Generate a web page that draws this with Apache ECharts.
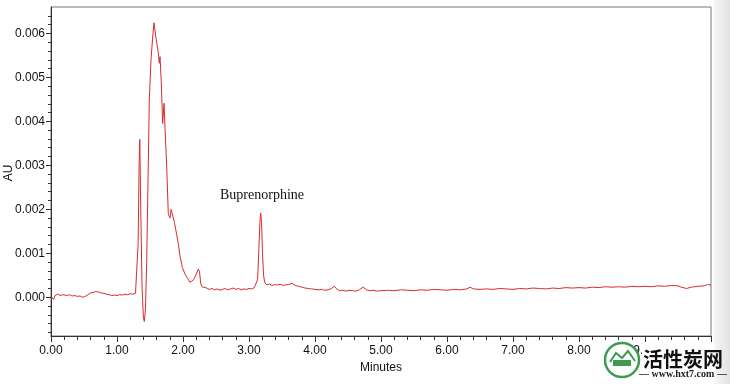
<!DOCTYPE html>
<html>
<head>
<meta charset="utf-8">
<script src="https://cdn.jsdelivr.net/npm/echarts@6/dist/echarts.min.js"></script>
<style>html,body{margin:0;padding:0;background:#fff}#c{width:730px;height:384px}</style>
</head>
<body>
<div id="c"></div>
<script>
// Retention time (minutes)
const time = [
  0.00,0.02,0.04,0.06,0.08,0.10,0.12,0.14,0.16,0.18,0.20,0.24,0.28,0.32,0.36,0.40,0.44,0.48,0.52,0.56,
  0.60,0.64,0.68,0.72,0.76,0.80,0.84,0.88,0.92,0.96,1.00,1.04,1.08,1.12,1.16,1.20,1.24,1.28,1.30,
  1.32,1.335,1.345,1.36,1.38,1.40,1.414,1.43,1.45,1.465,1.49,1.515,1.545,1.56,1.59,1.626,1.641,1.652,
  1.67,1.692,1.712,1.735,1.753,1.777,1.803,1.82,1.838,1.87,1.905,1.93,1.955,1.99,2.03,2.07,2.106,2.13,
  2.16,2.20,2.232,2.25,2.27,2.29,2.32,2.36,2.40,2.44,2.48,2.52,2.56,2.60,2.64,2.68,2.72,2.76,2.80,
  2.84,2.88,2.92,2.96,3.00,3.04,3.08,3.11,3.13,3.15,3.165,3.177,3.19,3.205,3.22,3.24,3.27,3.31,3.35,
  3.39,3.43,3.47,3.51,3.55,3.60,3.65,3.70,3.75,3.80,3.85,3.90,3.95,4.00,4.05,4.10,4.15,4.20,4.25,
  4.29,4.33,4.37,4.42,4.47,4.52,4.57,4.62,4.67,4.73,4.78,4.83,4.88,4.93,5.00,5.10,5.20,5.30,5.40,
  5.50,5.60,5.70,5.80,5.90,6.00,6.10,6.20,6.30,6.35,6.40,6.50,6.60,6.70,6.80,6.90,7.00,7.10,7.20,
  7.30,7.40,7.50,7.60,7.70,7.80,7.90,8.00,8.10,8.20,8.30,8.40,8.50,8.60,8.70,8.80,8.90,9.00,9.10,
  9.20,9.30,9.40,9.50,9.55,9.63,9.70,9.80,9.90,9.95,10.00
];
// Absorbance (AU)
const absorbance = [
  0.00002,0.00000,-0.00005,0.00004,0.00002,0.00007,0.00008,0.00004,0.00002,0.00006,0.00005,0.00004,0.00006,0.00003,0.00004,0.00002,0.00003,0.00000,0.00002,0.00006,
  0.00010,0.00011,0.00013,0.00012,0.00010,0.00009,0.00007,0.00006,0.00004,0.00005,0.00004,0.00006,0.00005,0.00007,0.00006,0.00008,0.00007,0.00009,0.00008,
  0.0012,0.0030,0.00359,0.0020,0.0002,-0.00045,-0.00055,-0.0003,0.0008,0.0022,0.0045,0.0054,0.0060,0.00624,0.0059,0.00555,0.00532,0.00547,
  0.0049,0.00395,0.00441,0.0036,0.00297,0.0019,0.0018,0.0020,0.0020,0.0017,0.00142,0.0012,0.00094,0.00068,0.00053,0.00043,0.00034,0.00032,
  0.0004,0.00052,0.00064,0.00058,0.0003,0.00024,0.00022,0.00021,0.00018,0.00020,0.00017,0.00019,0.00016,0.00018,0.00020,0.00017,0.00019,0.00021,0.00018,
  0.00020,0.00017,0.00019,0.00018,0.00020,0.00019,0.00022,0.00025,0.0004,0.0011,0.0017,0.00192,0.0017,0.0010,0.0005,0.00033,0.00028,0.00030,0.00027,
  0.00029,0.00028,0.00030,0.00027,0.00028,0.00029,0.00032,0.00027,0.00025,0.00023,0.00021,0.00020,0.00019,0.00018,0.00017,0.00018,0.00016,0.00017,0.00020,
  0.00025,0.00019,0.00015,0.00016,0.00014,0.00016,0.00015,0.00014,0.00017,0.00023,0.00017,0.00015,0.00016,0.00014,0.00015,0.00016,0.00015,0.00017,0.00016,
  0.00015,0.00017,0.00016,0.00018,0.00017,0.00016,0.00018,0.00017,0.00019,0.00023,0.00019,0.00018,0.00019,0.00018,0.00020,0.00019,0.00018,0.00020,0.00019,
  0.00021,0.00020,0.00019,0.00021,0.00020,0.00022,0.00021,0.00022,0.00021,0.00023,0.00022,0.00024,0.00023,0.00024,0.00023,0.00025,0.00024,0.00025,0.00024,
  0.00026,0.00025,0.00027,0.00026,0.00023,0.00020,0.00023,0.00025,0.00026,0.00029,0.00028
];
// Axis tick values
const yMajorTicks = [0, 0.001, 0.002, 0.003, 0.004, 0.005, 0.006];
const yMinorTicks = [-0.0008,-0.0006,-0.0004,-0.0002,0,0.0002,0.0004,0.0006,0.0008,0.001,0.0012,0.0014,0.0016,0.0018,0.002,0.0022,0.0024,0.0026,0.0028,0.003,0.0032,0.0034,0.0036,0.0038,0.004,0.0042,0.0044,0.0046,0.0048,0.005,0.0052,0.0054,0.0056,0.0058,0.006,0.0062,0.0064];
const peakLabel = 'Buprenorphine';

const chart = echarts.init(document.getElementById('c'), null, {renderer: 'canvas'});
const labelFont = {fontFamily: 'Liberation Sans, Arial, sans-serif', fontSize: 12, color: '#111'};
const overlay = [
  {type: 'rect', shape: {x: 642, y: 343, width: 72, height: 41}, silent: true, style: {fill: '#fff'}},
  {type: 'rect', shape: {x: 714, y: 0, width: 16, height: 384}, silent: true,
   style: {fill: new echarts.graphic.LinearGradient(0, 0, 1, 0, [{offset: 0, color: '#f6f6f6'}, {offset: 1, color: '#e2e2e2'}])}},
  {type: 'text', x: 9, y: 173, rotation: Math.PI / 2,
   style: {text: 'AU', font: '12px Liberation Sans, Arial, sans-serif', fill: '#111', align: 'center', verticalAlign: 'middle'}},
  {type: 'text', x: 262, y: 195,
   style: {text: peakLabel, font: '14px Liberation Serif, Times New Roman, serif', fill: '#111', align: 'center', verticalAlign: 'middle'}},
  {type: 'circle', shape: {cx: 622, cy: 360, r: 17}, style: {fill: '#fff', stroke: '#3f9b4f', lineWidth: 2.5}},
  {type: 'polyline', shape: {points: [[610,362],[616,353],[622,358],[628,351],[635,361]]}, style: {fill: 'none', stroke: '#3f9b4f', lineWidth: 2}},
  {type: 'rect', shape: {x: 613, y: 360, width: 18, height: 6}, style: {fill: '#3f9b4f'}},
  {type: 'text', x: 683, y: 359,
   style: {text: '活性炭网', font: 'bold 20px "Noto Sans CJK SC", sans-serif', fill: '#111', align: 'center', verticalAlign: 'middle'}},
  {type: 'text', x: 683, y: 374,
   style: {text: '— www.hxt7.com —', font: 'bold 10px Liberation Serif, serif', fill: '#222', align: 'center', verticalAlign: 'middle'}}
].map((e, i) => Object.assign(e, {z: 100 + i, zlevel: 1}));

chart.setOption({
  animation: false,
  backgroundColor: '#fff',
  grid: {left: 51, right: 19, top: 7, bottom: 48, show: true, borderColor: '#777', borderWidth: 1},
  xAxis: {
    type: 'value', min: 0, max: 10, interval: 1,
    name: 'Minutes', nameLocation: 'middle', nameGap: 26,
    nameTextStyle: labelFont,
    axisLine: {onZero: false, lineStyle: {color: '#333', width: 1}},
    axisTick: {length: 6, lineStyle: {color: '#333'}},
    minorTick: {show: true, splitNumber: 5, length: 4, lineStyle: {color: '#333'}},
    axisLabel: Object.assign({margin: 9, formatter: v => v.toFixed(2)}, labelFont),
    splitLine: {show: false}
  },
  yAxis: [{
    type: 'value', min: -0.00088, max: 0.0066,
    axisLine: {show: true, onZero: false, lineStyle: {color: '#333', width: 1}},
    axisTick: {show: true, length: 5, customValues: yMajorTicks, lineStyle: {color: '#333'}},
    axisLabel: Object.assign({margin: 6, customValues: yMajorTicks, formatter: v => v.toFixed(3)}, labelFont),
    splitLine: {show: false}
  }, {
    type: 'value', min: -0.00088, max: 0.0066, position: 'left',
    axisLine: {show: false, onZero: false},
    axisTick: {show: true, length: 3, customValues: yMinorTicks, lineStyle: {color: '#333'}},
    axisLabel: {show: false},
    splitLine: {show: false}
  }],
  series: [{
    type: 'line', yAxisIndex: 0, showSymbol: false, symbol: 'none',
    lineStyle: {color: '#d92b2b', width: 1},
    data: time.map((t, i) => [t, absorbance[i]])
  }],
  graphic: overlay
});
</script>
</body>
</html>
